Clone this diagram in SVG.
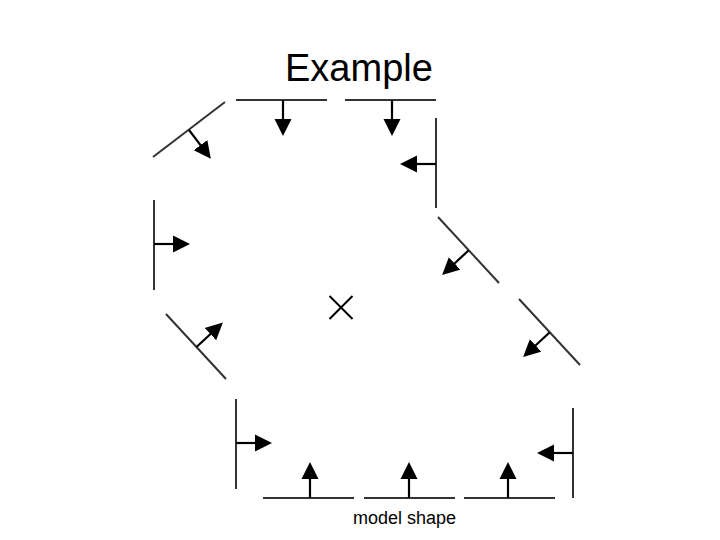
<svg xmlns="http://www.w3.org/2000/svg" width="720" height="540" viewBox="0 0 720 540">
  <style>
    .edge { stroke: #333333; stroke-width: 2; fill: none; }
    .arrow { stroke: #000000; stroke-width: 2.2; fill: none; marker-end: url(#head); }
    .cross { stroke: #000000; stroke-width: 2; fill: none; }
    .title { font-family: "Liberation Sans", Arial, sans-serif; font-size: 38px; fill: #000000; }
    .label { font-family: "Liberation Sans", Arial, sans-serif; font-size: 18px; fill: #000000; }
  </style>
  <defs>
    <marker id="head" markerUnits="userSpaceOnUse" markerWidth="18" markerHeight="18" refX="9" refY="8.5" orient="auto" viewBox="0 0 18 17">
      <path d="M0,0 L17,8.5 L0,17 Z" fill="#000000"/>
    </marker>
  </defs>
  <rect width="720" height="540" fill="#ffffff"/>
  <text class="title" x="285" y="81">Example</text>

  <g id="connectors">
    <g id="seg-top-left-diag">
      <line class="edge" x1="153" y1="157" x2="225" y2="102"/>
      <line class="arrow" x1="189" y1="130" x2="206" y2="152.3"/>
    </g>
    <g id="seg-top-1">
      <line class="edge" x1="236" y1="100" x2="327" y2="100"/>
      <line class="arrow" x1="283" y1="100" x2="283" y2="128"/>
    </g>
    <g id="seg-top-2">
      <line class="edge" x1="345" y1="100" x2="436" y2="100"/>
      <line class="arrow" x1="392" y1="100" x2="392" y2="128"/>
    </g>
    <g id="seg-right-vert-top">
      <line class="edge" x1="436" y1="118" x2="436" y2="208"/>
      <line class="arrow" x1="436" y1="164" x2="408" y2="164"/>
    </g>
    <g id="seg-left-vert">
      <line class="edge" x1="154" y1="200" x2="154" y2="290"/>
      <line class="arrow" x1="154" y1="244" x2="182" y2="244"/>
    </g>
    <g id="seg-left-diag">
      <line class="edge" x1="166" y1="314" x2="226" y2="379"/>
      <line class="arrow" x1="196.5" y1="347" x2="217" y2="328"/>
    </g>
    <g id="seg-right-diag-1">
      <line class="edge" x1="438" y1="217" x2="499" y2="283"/>
      <line class="arrow" x1="468.5" y1="250.5" x2="448" y2="269.5"/>
    </g>
    <g id="seg-right-diag-2">
      <line class="edge" x1="519" y1="299" x2="580" y2="365"/>
      <line class="arrow" x1="549.5" y1="332.5" x2="529" y2="351.5"/>
    </g>
    <g id="seg-bottom-left-vert">
      <line class="edge" x1="236" y1="399" x2="236" y2="489"/>
      <line class="arrow" x1="236" y1="443" x2="264" y2="443"/>
    </g>
    <g id="seg-bottom-right-vert">
      <line class="edge" x1="573" y1="408" x2="573" y2="498"/>
      <line class="arrow" x1="573" y1="453" x2="545" y2="453"/>
    </g>
    <g id="seg-bottom-1">
      <line class="edge" x1="263" y1="498" x2="354" y2="498"/>
      <line class="arrow" x1="310" y1="498" x2="310" y2="470"/>
    </g>
    <g id="seg-bottom-2">
      <line class="edge" x1="364" y1="498" x2="455" y2="498"/>
      <line class="arrow" x1="409" y1="498" x2="409" y2="470"/>
    </g>
    <g id="seg-bottom-3">
      <line class="edge" x1="464" y1="498" x2="555" y2="498"/>
      <line class="arrow" x1="508" y1="498" x2="508" y2="470"/>
    </g>
  </g>

  <g id="centre">
    <line class="cross" x1="329.5" y1="296" x2="352.5" y2="319"/>
    <line class="cross" x1="352.5" y1="296" x2="329.5" y2="319"/>
  </g>

  <text class="label" x="353" y="524">model shape</text>
</svg>
